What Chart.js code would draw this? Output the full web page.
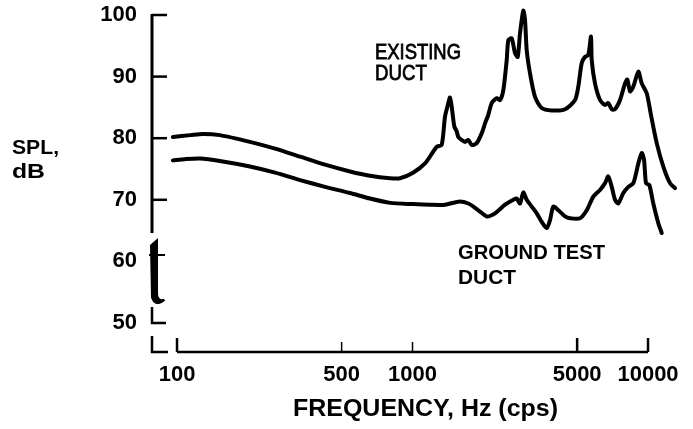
<!DOCTYPE html>
<html>
<head>
<meta charset="utf-8">
<script src="https://cdn.jsdelivr.net/npm/chart.js@4.4.1/dist/chart.umd.min.js"></script>
<style>
  html, body { margin: 0; padding: 0; background: #ffffff; }
  #wrap { width: 693px; height: 429px; }
  canvas { display: block; }
</style>
</head>
<body>
<div id="wrap"><canvas id="c" width="693" height="429"></canvas></div>
<script>
// ---- data ----
const existingFreq = [96, 114, 129, 152, 204, 261, 333, 425, 543, 660, 803, 885, 1005, 1130, 1267, 1330, 1374, 1419, 1443, 1467, 1505, 1541, 1565, 1618, 1671, 1726, 1784, 1873, 1967, 2032, 2098, 2169, 2278, 2353, 2430, 2512, 2552, 2638, 2724, 2797, 2860, 2954, 3004, 3054, 3155, 3313, 3537, 3900, 4442, 4898, 5059, 5230, 5401, 5578, 5727, 5766, 5955, 6254, 6568, 6783, 7013, 7243, 7606, 7987, 8168, 8387, 8662, 9097, 9404, 9874, 10268, 10888, 11614, 12400, 13022];
const existingSPL = [80.2, 80.5, 80.7, 80.5, 79.4, 78.3, 77.0, 75.7, 74.6, 73.9, 73.5, 73.5, 74.4, 75.9, 78.6, 78.9, 83.5, 85.7, 86.6, 85.1, 81.9, 81.1, 80.2, 79.7, 79.4, 79.7, 78.9, 79.2, 80.8, 82.4, 83.8, 85.7, 86.5, 86.2, 87.8, 92.7, 95.9, 96.2, 93.8, 93.2, 97.0, 100.7, 99.2, 94.3, 90.5, 86.7, 84.9, 84.5, 84.7, 86.2, 88.4, 92.2, 93.2, 93.5, 96.5, 92.7, 88.9, 86.2, 85.4, 85.7, 84.7, 84.7, 86.2, 88.9, 89.5, 87.6, 88.4, 90.8, 88.9, 87.3, 84.0, 79.2, 75.4, 72.7, 71.9];

const groundFreq = [96, 108, 125, 152, 204, 261, 333, 425, 543, 660, 803, 1005, 1187, 1374, 1565, 1726, 1903, 2066, 2240, 2471, 2680, 2770, 2860, 2954, 3054, 3208, 3369, 3537, 3714, 3836, 3962, 4160, 4442, 4665, 5143, 5492, 5857, 6254, 6568, 6783, 7013, 7243, 7480, 7855, 8249, 8662, 9097, 9404, 9618, 9807, 10128, 10531, 11060, 11434];
const groundSPL = [76.4, 76.6, 76.7, 76.3, 75.4, 74.4, 73.2, 72.1, 71.1, 70.2, 69.5, 69.3, 69.2, 69.2, 69.7, 69.4, 68.3, 67.3, 67.8, 69.2, 70.0, 70.2, 69.4, 71.2, 70.0, 68.9, 67.8, 66.4, 65.4, 66.7, 68.9, 68.3, 67.3, 67.0, 67.0, 68.3, 70.5, 71.6, 72.7, 73.8, 72.1, 70.0, 69.4, 71.1, 72.1, 72.7, 75.9, 77.6, 76.5, 72.7, 72.4, 69.4, 66.2, 64.6];

const xTickValues = [100, 500, 1000, 5000, 10000];
const yTickValues = [50, 60, 70, 80, 90, 100];
const yTickMarks = [70, 80, 90, 100];
const yAxisTitle = ['SPL,', 'dB'];
const xAxisTitle = 'FREQUENCY, Hz (cps)';
const existingLabel = ['EXISTING', 'DUCT'];
const groundLabel = ['GROUND TEST', 'DUCT'];

// ---- chart ----
const FONT = "'Liberation Sans', Arial, Helvetica, sans-serif";
const INK = '#000000';

function toPoints(xs, ys) { return xs.map((x, i) => ({ x: x, y: ys[i] })); }

function drawText(ctx, text, x, y, font, targetWidth, heavy) {
  ctx.save();
  ctx.font = font;
  ctx.fillStyle = INK;
  ctx.strokeStyle = INK;
  ctx.textAlign = 'left';
  ctx.textBaseline = 'alphabetic';
  const w = ctx.measureText(text).width;
  const sx = targetWidth ? targetWidth / w : 1;
  ctx.translate(x, y);
  ctx.scale(sx, 1);
  ctx.fillText(text, 0, 0);
  if (heavy) { ctx.lineWidth = heavy; ctx.strokeText(text, 0, 0); }
  ctx.restore();
}

const axesPlugin = {
  id: 'axesPlugin',
  afterDraw(chart) {
    const ctx = chart.ctx;
    const xs = chart.scales.x, ys = chart.scales.y;
    const ax = chart.chartArea.left;       // y-axis line x
    const ay = chart.chartArea.bottom;     // x-axis line y
    ctx.save();
    ctx.strokeStyle = INK;
    ctx.lineCap = 'butt';

    // y axis upper segment
    ctx.lineWidth = 3;
    ctx.beginPath();
    ctx.moveTo(ax, ys.getPixelForValue(100) - 1);
    ctx.lineTo(ax, ys.getPixelForValue(64.6));
    ctx.stroke();
    // y tick marks (inward)
    ctx.lineWidth = 2.5;
    yTickMarks.forEach(v => {
      const py = ys.getPixelForValue(v);
      ctx.beginPath();
      ctx.moveTo(ax, py);
      ctx.lineTo(ax + 15, py);
      ctx.stroke();
    });
    // lower segment with tick at 50 ("L")
    const p50 = ys.getPixelForValue(50);
    ctx.lineWidth = 2.5;
    ctx.beginPath();
    ctx.moveTo(ax, ys.getPixelForValue(52.6));
    ctx.lineTo(ax, p50);
    ctx.lineTo(ax + 14, p50);
    ctx.stroke();

    // axis break squiggle ("t" shape)
    const tTop = ys.getPixelForValue(63.8);
    const tBot = ys.getPixelForValue(52.8);
    ctx.fillStyle = INK;
    ctx.beginPath();
    ctx.moveTo(ax - 2, tTop + 7);
    ctx.lineTo(ax + 6, tTop);
    ctx.lineTo(ax + 6, tBot - 13);
    ctx.quadraticCurveTo(ax + 6, tBot - 5, ax + 12, tBot - 7);
    ctx.lineTo(ax + 13, tBot - 5);
    ctx.quadraticCurveTo(ax + 3, tBot + 3, ax - 1, tBot - 8);
    ctx.closePath();
    ctx.fill();
    ctx.lineWidth = 2;
    ctx.beginPath();
    ctx.moveTo(ax - 3, tTop + 17);
    ctx.lineTo(ax + 13, tTop + 17);
    ctx.stroke();

    // corner bracket
    ctx.lineWidth = 2.5;
    ctx.beginPath();
    ctx.moveTo(ax, ay - 16);
    ctx.lineTo(ax, ay);
    ctx.lineTo(ax + 16, ay);
    ctx.stroke();

    // x axis line from 100 to 10000
    const x0 = xs.getPixelForValue(xTickValues[0]);
    const x1 = xs.getPixelForValue(xTickValues[xTickValues.length - 1]);
    ctx.lineWidth = 2.5;
    ctx.beginPath();
    ctx.moveTo(x0, ay);
    ctx.lineTo(x1, ay);
    ctx.stroke();
    xTickValues.forEach(v => {
      const px = xs.getPixelForValue(v);
      const minor = (v === 500 || v === 1000);
      ctx.lineWidth = minor ? 1.5 : 2.5;
      ctx.beginPath();
      ctx.moveTo(px, ay);
      ctx.lineTo(px, ay - (minor ? 10 : 14));
      ctx.stroke();
    });
    ctx.restore();

    // texts
    const bold = "bold 21px " + FONT;
    drawText(ctx, yAxisTitle[0], 12, 154, bold, 47);
    drawText(ctx, yAxisTitle[1], 12, 178, bold, 33);
    drawText(ctx, xAxisTitle, 293, 416, "bold 23px " + FONT, 265);
    drawText(ctx, existingLabel[0], 375, 58.5, "22px " + FONT, 86, 0.8);
    drawText(ctx, existingLabel[1], 375, 79.5, "22px " + FONT, 52, 0.8);
    drawText(ctx, groundLabel[0], 458, 258.5, "bold 21px " + FONT, 147);
    drawText(ctx, groundLabel[1], 458, 283.5, "bold 21px " + FONT, 58);
  }
};

const lineStyle = {
  borderColor: INK,
  borderWidth: 4,
  pointRadius: 0,
  tension: 0.25,
  fill: false,
  clip: false,
  borderCapStyle: 'round',
  borderJoinStyle: 'round'
};

new Chart(document.getElementById('c'), {
  type: 'line',
  data: {
    datasets: [
      Object.assign({ label: 'Existing duct', data: toPoints(existingFreq, existingSPL) }, lineStyle),
      Object.assign({ label: 'Ground test duct', data: toPoints(groundFreq, groundSPL) }, lineStyle)
    ]
  },
  options: {
    responsive: false,
    devicePixelRatio: 1,
    animation: false,
    layout: { padding: { left: 0, right: 13, top: 3, bottom: 0 } },
    plugins: { legend: { display: false }, tooltip: { enabled: false } },
    scales: {
      x: {
        type: 'logarithmic',
        min: 78.3,
        max: 13671,
        grid: { display: false, drawTicks: false },
        border: { display: false },
        afterBuildTicks(s) { s.ticks = xTickValues.map(v => ({ value: v })); },
        afterFit(s) { s.height = 77; s.paddingLeft = 0; s.paddingRight = 0; s.paddingTop = 0; s.paddingBottom = 0; },
        ticks: {
          autoSkip: false,
          maxRotation: 0,
          minRotation: 0,
          padding: 10,
          color: INK,
          font: { family: FONT, size: 22, weight: 'bold' },
          callback: (v) => String(v)
        }
      },
      y: {
        type: 'linear',
        min: 45.29,
        max: 101.948,
        grid: { display: false, drawTicks: false },
        border: { display: false },
        afterBuildTicks(s) { s.ticks = yTickValues.map(v => ({ value: v })); },
        afterFit(s) { s.width = 152; s.paddingLeft = 0; s.paddingRight = 0; s.paddingTop = 0; s.paddingBottom = 0; },
        ticks: {
          autoSkip: false,
          padding: 15,
          color: INK,
          font: { family: FONT, size: 22, weight: 'bold' },
          callback: (v) => String(v)
        }
      }
    }
  },
  plugins: [axesPlugin]
});
</script>
</body>
</html>
